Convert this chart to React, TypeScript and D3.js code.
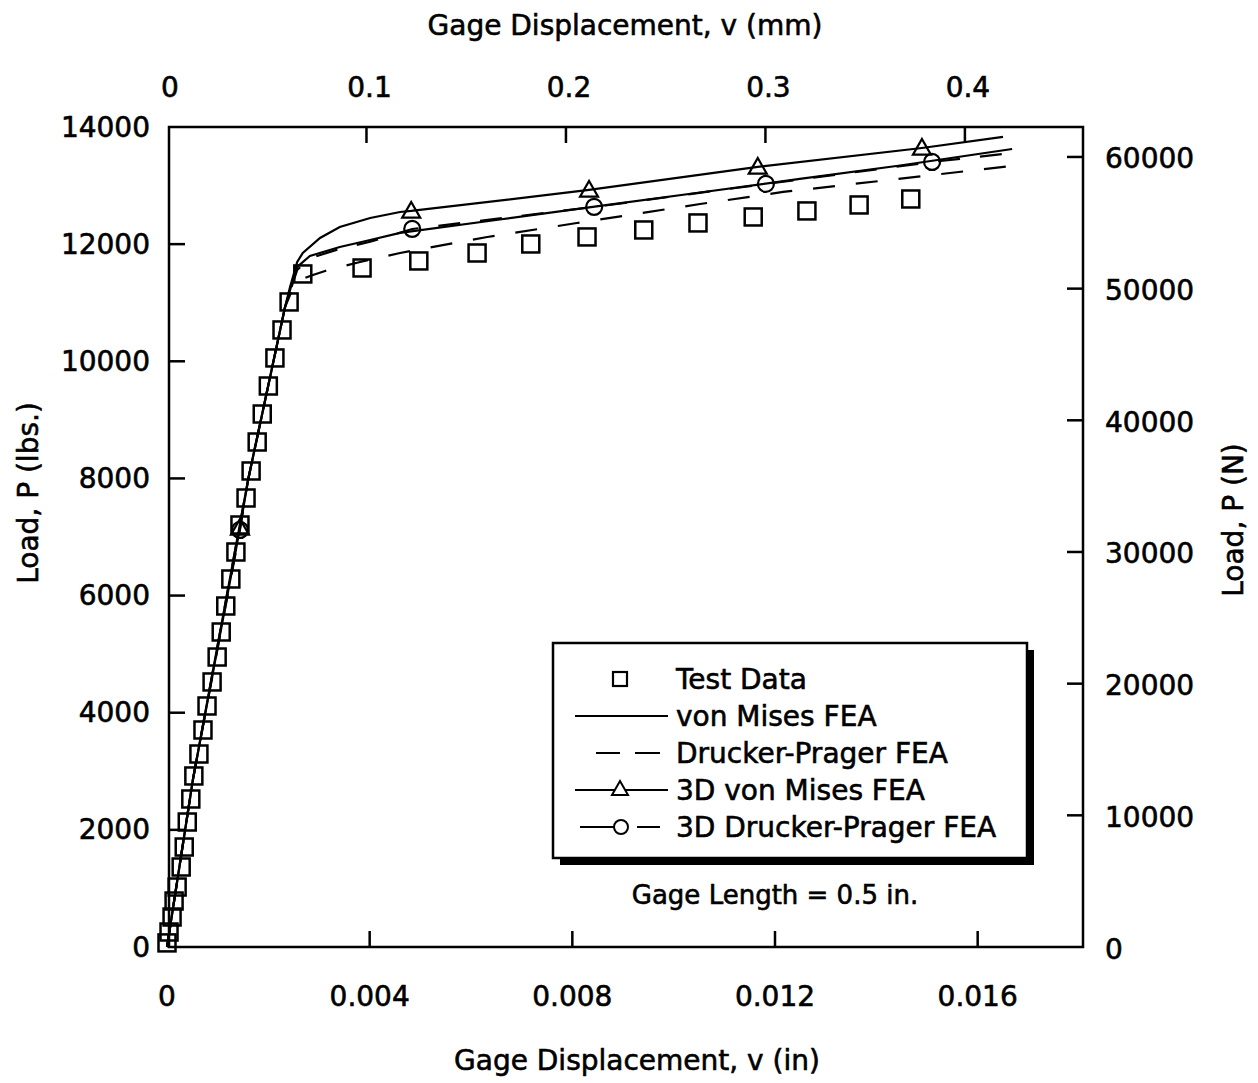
import React from "react";
import * as d3 from "d3";

// ---- data (x: gage displacement in inches, y: load in lbs) ----
const testX = [0, 0.00004, 0.0001, 0.00014, 0.0002, 0.00028, 0.00034, 0.0004, 0.00047, 0.00053, 0.00063, 0.00071, 0.00079, 0.00089, 0.00099, 0.00107, 0.00116, 0.00126, 0.00136, 0.00144, 0.00156, 0.00166, 0.00178, 0.00188, 0.002, 0.00213, 0.00227, 0.00241, 0.00268, 0.00385, 0.00497, 0.00612, 0.00718, 0.00829, 0.00941, 0.01048, 0.01157, 0.01263, 0.01366, 0.01468];
const testY = [70, 256, 512, 785, 1024, 1366, 1707, 2134, 2527, 2920, 3295, 3705, 4115, 4525, 4951, 5378, 5822, 6283, 6744, 7205, 7666, 8127, 8622, 9100, 9578, 10057, 10535, 11013, 11491, 11593, 11713, 11849, 12003, 12123, 12242, 12362, 12464, 12567, 12669, 12771];

const vmX = [0, 0.00051, 0.0016, 0.00233, 0.00247, 0.00257, 0.00282, 0.00341, 0.00401, 0.0046, 0.00657, 0.00855, 0.01052, 0.01249, 0.01447, 0.01668];
const vmY = [0, 2851, 7974, 10927, 11337, 11610, 11798, 11952, 12071, 12191, 12421, 12652, 12882, 13113, 13343, 13625];

const dpX = [0, 0.00051, 0.0016, 0.00233, 0.00247, 0.00262, 0.00288, 0.00312, 0.00381, 0.0046, 0.00632, 0.00809, 0.01052, 0.01216, 0.01668];
const dpY = [0, 2851, 7974, 10927, 11217, 11388, 11474, 11542, 11696, 11849, 12122, 12361, 12685, 12891, 13335];

const vm3dX = [0, 0.00051, 0.00144, 0.0016, 0.00233, 0.00243, 0.00257, 0.00268, 0.00302, 0.00341, 0.00401, 0.0046, 0.00482, 0.00833, 0.01166, 0.0149, 0.0165];
const vm3dY = [0, 2851, 7154, 7974, 10927, 11274, 11696, 11849, 12105, 12293, 12447, 12549, 12567, 12925, 13318, 13642, 13830];
const vm3dMarkX = [0.00144, 0.00482, 0.00833, 0.01166, 0.0149];
const vm3dMarkY = [7154, 12567, 12925, 13318, 13642];

const dp3dX = [0, 0.00051, 0.00144, 0.0016, 0.00233, 0.00247, 0.00257, 0.00282, 0.00341, 0.00401, 0.00484, 0.00843, 0.01182, 0.0151, 0.01668];
const dp3dY = [0, 2851, 7120, 7974, 10927, 11300, 11560, 11760, 11920, 12040, 12259, 12635, 13028, 13403, 13557];
const dp3dMarkX = [0.00144, 0.00484, 0.00843, 0.01182, 0.0151];
const dp3dMarkY = [7120, 12259, 12635, 13028, 13403];

const bottomTicks = [0, 0.004, 0.008, 0.012, 0.016];
const bottomTickLabels = ["0", "0.004", "0.008", "0.012", "0.016"];
const topTicksMm = [0, 0.1, 0.2, 0.3, 0.4];
const topTickLabels = ["0", "0.1", "0.2", "0.3", "0.4"];
const leftTicks = [0, 2000, 4000, 6000, 8000, 10000, 12000, 14000];
const rightTicksN = [0, 10000, 20000, 30000, 40000, 50000, 60000];

const legendLabels = ["Test Data", "von Mises FEA", "Drucker-Prager FEA", "3D von Mises FEA", "3D Drucker-Prager FEA"];

const LBS_PER_N = 1 / 4.44822;
const MM_PER_IN = 25.4;

const FONT = "'DejaVu Sans', Arial, sans-serif";
const TXT = { fontFamily: FONT, fontSize: 28, stroke: "#000", strokeWidth: 0.6, fill: "#000" } as const;

export default function App() {
  const W = 1258;
  const H = 1083;
  const frame = { left: 169, right: 1083, top: 127, bottom: 947 };
  const x = d3.scaleLinear().domain([0, 0.018]).range([167, 1079]);
  const y = d3.scaleLinear().domain([0, 14000]).range([947, 127]);

  const line = (xs: number[], ys: number[]) =>
    d3.line<number>().x((_, i) => x(xs[i])).y((_, i) => y(ys[i]))(xs.map((_, i) => i)) || "";

  const sq = 17;
  const tri = (cx: number, cy: number, s = 9) =>
    `M${cx},${cy - s} L${cx + s},${cy + s * 0.75} L${cx - s},${cy + s * 0.75} Z`;

  const legend = { x: 553, y: 643, w: 474, h: 215 };
  const rowY = (i: number) => 679 + 37 * i;

  return (
    <svg width={W} height={H} style={{ display: "block", position: "absolute", left: 0, top: 0, background: "#fff" }}>
      <rect x={0} y={0} width={W} height={H} fill="#fff" />
      {/* axis titles */}
      <text x={625} y={25} {...TXT} textAnchor="middle" dominantBaseline="central">
        Gage Displacement, v (mm)
      </text>
      <text x={637} y={1060} {...TXT} textAnchor="middle" dominantBaseline="central">
        Gage Displacement, v (in)
      </text>
      <text transform="translate(28,493) rotate(-90)" {...TXT} textAnchor="middle" dominantBaseline="central">
        Load, P (lbs.)
      </text>
      <text transform="translate(1233,520) rotate(-90)" {...TXT} textAnchor="middle" dominantBaseline="central">
        Load, P (N)
      </text>

      {/* frame */}
      <rect x={frame.left} y={frame.top} width={frame.right - frame.left} height={frame.bottom - frame.top} fill="none" stroke="#000" strokeWidth={2.5} />

      {/* bottom ticks */}
      {bottomTicks.map((t, i) => (
        <g key={"b" + i}>
          {i > 0 && <line x1={x(t)} x2={x(t)} y1={frame.bottom} y2={frame.bottom - 16} stroke="#000" strokeWidth={2.5} />}
          <text x={x(t)} y={996} {...TXT} textAnchor="middle" dominantBaseline="central">
            {bottomTickLabels[i]}
          </text>
        </g>
      ))}
      {/* top ticks (mm) */}
      {topTicksMm.map((t, i) => (
        <g key={"t" + i}>
          {i > 0 && <line x1={x(t / MM_PER_IN)} x2={x(t / MM_PER_IN)} y1={frame.top} y2={frame.top + 16} stroke="#000" strokeWidth={2.5} />}
          <text x={x(t / MM_PER_IN) + 3} y={87} {...TXT} textAnchor="middle" dominantBaseline="central">
            {topTickLabels[i]}
          </text>
        </g>
      ))}
      {/* left ticks */}
      {leftTicks.map((t, i) => (
        <g key={"l" + i}>
          {i > 0 && i < leftTicks.length - 1 && <line x1={frame.left} x2={frame.left + 16} y1={y(t)} y2={y(t)} stroke="#000" strokeWidth={2.5} />}
          <text x={150} y={y(t)} {...TXT} textAnchor="end" dominantBaseline="central">
            {String(t)}
          </text>
        </g>
      ))}
      {/* right ticks (N) */}
      {rightTicksN.map((t, i) => (
        <g key={"r" + i}>
          {i > 0 && <line x1={frame.right} x2={frame.right - 16} y1={y(t * LBS_PER_N)} y2={y(t * LBS_PER_N)} stroke="#000" strokeWidth={2.5} />}
          <text x={1105} y={y(t * LBS_PER_N) + 2} {...TXT} textAnchor="start" dominantBaseline="central">
            {String(t)}
          </text>
        </g>
      ))}

      {/* curves */}
      <path d={line(dpX, dpY)} fill="none" stroke="#000" strokeWidth={2.2} strokeDasharray="22 21" />
      <path d={line(dp3dX, dp3dY)} fill="none" stroke="#000" strokeWidth={2.2} strokeDasharray="22 20" />
      <path d={line(vmX, vmY)} fill="none" stroke="#000" strokeWidth={2.2} />
      <path d={line(vm3dX, vm3dY)} fill="none" stroke="#000" strokeWidth={2.2} />

      {/* markers */}
      {testX.map((v, i) => (
        <rect key={"s" + i} x={x(v) - sq / 2} y={y(testY[i]) - sq / 2} width={sq} height={sq} fill="none" stroke="#000" strokeWidth={2.5} />
      ))}
      {vm3dMarkX.map((v, i) => (
        <path key={"tr" + i} d={tri(x(v), y(vm3dMarkY[i]))} fill="none" stroke="#000" strokeWidth={2.2} />
      ))}
      {dp3dMarkX.map((v, i) => (
        <circle key={"c" + i} cx={x(v)} cy={y(dp3dMarkY[i])} r={8} fill="none" stroke="#000" strokeWidth={2.2} />
      ))}

      {/* legend */}
      <rect x={legend.x + 7} y={legend.y + 7} width={legend.w} height={legend.h} fill="#000" />
      <rect x={legend.x} y={legend.y} width={legend.w} height={legend.h} fill="#fff" stroke="#000" strokeWidth={2.5} />
      <rect x={620 - 7} y={rowY(0) - 7} width={14} height={14} fill="none" stroke="#000" strokeWidth={2.2} />
      <line x1={575} x2={668} y1={rowY(1)} y2={rowY(1)} stroke="#000" strokeWidth={2} />
      <line x1={596} x2={620} y1={rowY(2)} y2={rowY(2)} stroke="#000" strokeWidth={2} />
      <line x1={635} x2={660} y1={rowY(2)} y2={rowY(2)} stroke="#000" strokeWidth={2} />
      <line x1={575} x2={668} y1={rowY(3)} y2={rowY(3)} stroke="#000" strokeWidth={2} />
      <path d={tri(620, rowY(3) - 1, 8)} fill="#fff" stroke="#000" strokeWidth={2} />
      <line x1={580} x2={615} y1={rowY(4)} y2={rowY(4)} stroke="#000" strokeWidth={2} />
      <circle cx={621} cy={rowY(4)} r={7} fill="#fff" stroke="#000" strokeWidth={2} />
      <line x1={637} x2={660} y1={rowY(4)} y2={rowY(4)} stroke="#000" strokeWidth={2} />
      {legendLabels.map((l, i) => (
        <text key={"lg" + i} x={676} y={rowY(i)} {...TXT} dominantBaseline="central">
          {l}
        </text>
      ))}

      <text x={775} y={895} {...TXT} fontSize={26} textAnchor="middle" dominantBaseline="central">
        Gage Length = 0.5 in.
      </text>
    </svg>
  );
}
